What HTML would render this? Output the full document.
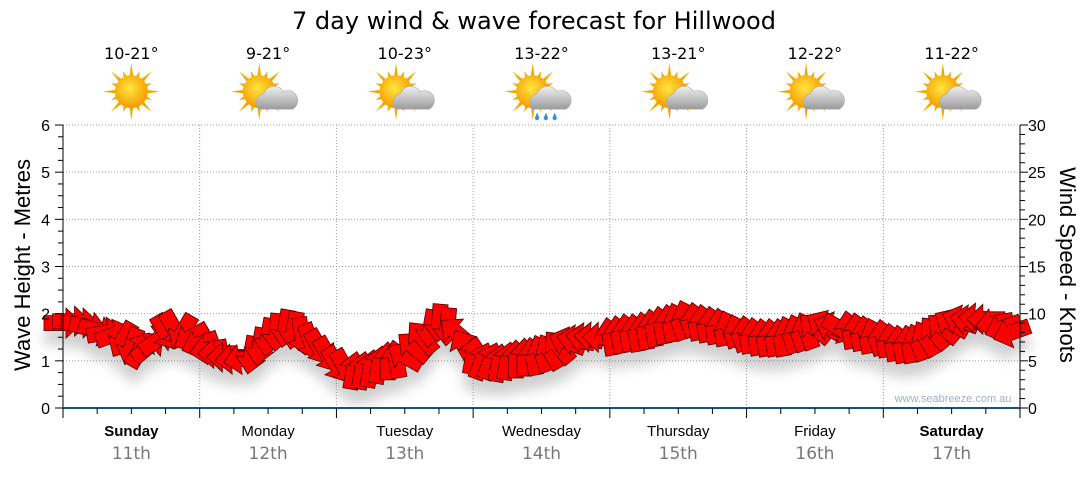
<!DOCTYPE html>
<html><head><meta charset="utf-8"><style>
body{margin:0;background:#fff;width:1080px;height:475px;overflow:hidden;font-family:"Liberation Sans","DejaVu Sans",sans-serif}
svg text{font-family:"DejaVu Sans","Liberation Sans",sans-serif}
svg text.ls{font-family:"Liberation Sans","DejaVu Sans",sans-serif}
</style></head><body>
<svg id="c" width="1080" height="475" xmlns="http://www.w3.org/2000/svg">
<defs>
<radialGradient id="sun" cx="45%" cy="40%" r="60%"><stop offset="0" stop-color="#ffe640"/><stop offset="1" stop-color="#f59a00"/></radialGradient>
<linearGradient id="cloud" x1="0" y1="0" x2="0" y2="1"><stop offset="0" stop-color="#f0f0f0"/><stop offset="1" stop-color="#9a9a9a"/></linearGradient>
<filter id="sh" x="-20%" y="-50%" width="140%" height="250%"><feGaussianBlur stdDeviation="6"/></filter>
</defs>
<text x="534" y="29" font-size="24" text-anchor="middle" fill="#000">7 day wind &amp; wave forecast for Hillwood</text>
<g id="topg"></g>
<g id="grid"></g>
<g id="shadow" filter="url(#sh)" opacity="0.35"></g>
<g id="arrows"></g>
<g id="axes"></g>
<text x="953" y="402" font-size="11" fill="#9fb0c8" text-anchor="middle" class="ls">www.seabreeze.com.au</text>
<text transform="translate(30,265) rotate(-90)" font-size="22" text-anchor="middle" class="ls">Wave Height - Metres</text>
<text transform="translate(1060,265) rotate(90)" font-size="22" text-anchor="middle" class="ls">Wind Speed - Knots</text>
</svg>
<script>
const days=["Sunday","Monday","Tuesday","Wednesday","Thursday","Friday","Saturday"];
const dates=["11th","12th","13th","14th","15th","16th","17th"];
const temps=["10-21°","9-21°","10-23°","13-22°","13-21°","12-22°","11-22°"];
const icons=["sun","partly","partly","rain","partly","partly","partly"];
const waveTicks=[0,1,2,3,4,5,6];
const windTicks=[0,5,10,15,20,25,30];
const windSpeed=[9,9.2,9,8.6,8.2,8,7.8,7.2,6.5,6.2,6.5,7.2,8,8.4,8,7.5,
6.8,6.2,5.8,5.4,5.2,5.2,5.6,6.5,7.5,8,8.4,8.2,7.6,7,6.4,5.6,
4.6,4.3,4,4,4.2,4.6,5,5.2,5.5,6.5,7.5,8.4,9,8.6,8,6.5,
5.6,5,5,4.8,5,5.2,5.4,5.5,5.8,6,6.5,7,7.2,7.4,7.5,7.5,
7.6,7.8,8,8,8.2,8.5,8.8,9,9.2,9.5,9.2,9,8.8,8.6,8.4,8,
7.8,7.6,7.5,7.5,7.5,7.8,8,8.2,8.5,8.8,8.6,8.4,8.3,8.1,7.8,7.6,
7.4,7,6.8,6.8,7,7.4,8,8.5,9,9.3,9.3,9.5,9.4,9,8.5,8];
const windDir=[0,0,0,10,15,-10,-20,120,110,-60,-40,-35,60,60,120,150,
160,170,180,180,175,170,100,100,100,95,100,100,80,70,60,60,
60,60,-80,-80,-80,-80,-90,-100,-150,-140,-130,100,95,95,-140,-120,
-80,-70,-70,-80,-80,-90,-90,-100,-110,-120,-130,-160,-170,-170,-175,180,
-100,-100,-100,-100,-100,-100,-100,-100,-110,-110,-100,-100,-100,-100,-110,-110,
-100,-100,-100,-100,-100,-110,-110,-110,-140,-150,-160,30,-100,-100,-100,-110,
-100,-100,-100,-100,-110,-120,-130,-140,-150,-160,-170,-175,180,170,160,160];

const NS="http://www.w3.org/2000/svg";
const X0=63,X1=1020,Y0=408,Y1=125;
const dayW=(X1-X0)/7;
const yWave=v=>Y0-(v/6)*(Y0-Y1);
const yWind=v=>Y0-(v/30)*(Y0-Y1);
const xIdx=i=>X0+i*dayW/16;
function mk(tag,attrs,parent){const e=document.createElementNS(NS,tag);for(const k in attrs)e.setAttribute(k,attrs[k]);parent.appendChild(e);return e;}
const grid=document.getElementById('grid'),axes=document.getElementById('axes'),topG=document.getElementById('topg');
waveTicks.forEach(t=>{if(t>0){const l=mk('line',{x1:X0,x2:X1,y1:yWave(t),y2:yWave(t),stroke:'#999','stroke-dasharray':'1,2'},grid);

}});
for(let d=1;d<7;d++){const l=mk('line',{x1:X0+d*dayW,x2:X0+d*dayW,y1:Y1,y2:Y0,stroke:'#999','stroke-dasharray':'1,2'},grid);

}
mk('line',{x1:X0,x2:X0,y1:Y1,y2:Y0+10,stroke:'#000'},axes);
mk('line',{x1:X1,x2:X1,y1:Y1,y2:Y0+10,stroke:'#000'},axes);
mk('line',{x1:X0,x2:X1,y1:Y0,y2:Y0,stroke:'#1f4e79','stroke-width':2},axes);
for(let i=0;i<=24;i++){const y=yWave(i/4);mk('line',{x1:X0-(i%4?5:8),x2:X0,y1:y,y2:y,stroke:'#000'},axes);}
for(let i=0;i<=30;i++){const y=yWind(i);mk('line',{x1:X1,x2:X1+(i%5?5:8),y1:y,y2:y,stroke:'#000'},axes);}
for(let i=0;i<=28;i++){const x=X0+i*dayW/4;mk('line',{x1:x,x2:x,y1:Y0,y2:Y0+(i%4?6:10),stroke:'#000'},axes);}
waveTicks.forEach(t=>{const e=mk('text',{x:50,y:yWave(t)+6,'font-size':16,'text-anchor':'end','class':'ls'},axes);e.textContent=t;

});
windTicks.forEach(t=>{const e=mk('text',{x:1028,y:yWind(t)+6,'font-size':16,'class':'ls'},axes);e.textContent=t;

});
days.forEach((d,i)=>{const cx=X0+(i+0.5)*dayW;
const a=mk('text',{x:cx,y:436,'font-size':15,'text-anchor':'middle','class':'ls','font-weight':(i==0||i==6)?'bold':'normal'},axes);a.textContent=d;


const b=mk('text',{x:cx,y:459,'font-size':17,'text-anchor':'middle',fill:'#777'},axes);b.textContent=dates[i];


const t=mk('text',{x:cx,y:59,'font-size':16,'text-anchor':'middle'},topG);t.textContent=temps[i];


const g=mk('g',{transform:`translate(${cx},96) scale(1.1)`},topG);


const sx=icons[i]=='sun'?0:-8;
for(let r=0;r<16;r++){const ang=r*Math.PI/8,len=r%2?20:26;
mk('polygon',{points:`${sx+Math.cos(ang-0.12)*14},${-4+Math.sin(ang-0.12)*14} ${sx+Math.cos(ang)*len},${-4+Math.sin(ang)*len} ${sx+Math.cos(ang+0.12)*14},${-4+Math.sin(ang+0.12)*14}`,fill:'#f2a800'},g);}
mk('circle',{cx:sx,cy:-4,r:15,fill:'url(#sun)'},g);
if(icons[i]!='sun'){mk('path',{d:'M-8,12 a8,8 0 0 1 4,-14 a10,10 0 0 1 18,-2 a8,8 0 0 1 8,16 z',fill:'url(#cloud)',stroke:'#aaa','stroke-width':0.5},g);}
if(icons[i]=='rain'){[-4,4,12].forEach(dx=>mk('path',{d:`M${dx},15 l-2,5 a2,2 0 0 0 4,0 z`,fill:'#3a8ee0'},g));}
});
const ag=document.getElementById('arrows'),sg=document.getElementById('shadow');
windSpeed.forEach((v,i)=>{const x=xIdx(i),y=yWind(v),r=windDir[i];
const pts='-19,-7.5 3,-7.5 3,-15 19,0 3,15 3,7.5 -19,7.5';
mk('polygon',{points:pts,fill:'#777',transform:`translate(${x},${y+14}) rotate(${r})`},sg);
const p=mk('polygon',{points:pts,fill:'#ff0000',stroke:'#500','stroke-width':0.8,transform:`translate(${x},${y}) rotate(${r})`},ag);


});
</script>
</body></html>
